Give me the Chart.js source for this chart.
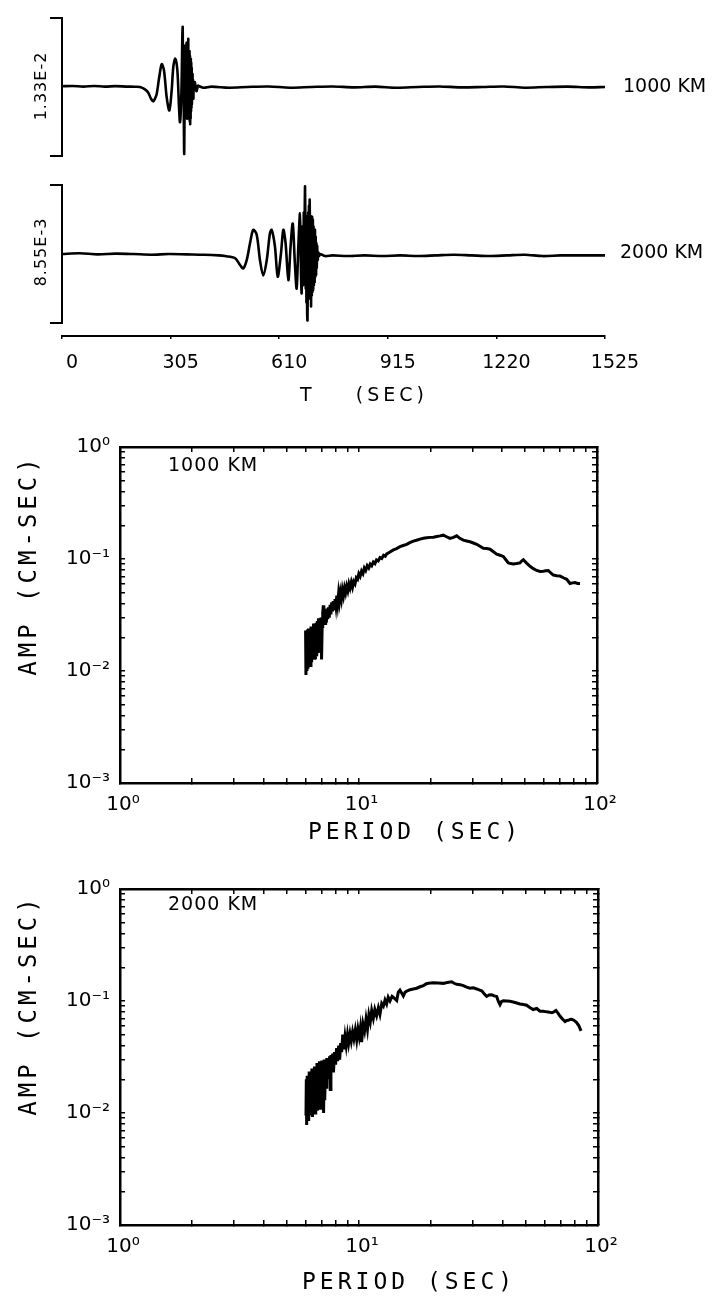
<!DOCTYPE html>
<html>
<head>
<meta charset="utf-8">
<script src="https://cdn.jsdelivr.net/npm/chart.js@4.4.0/dist/chart.umd.min.js"></script>
<style>
  body { margin: 0; background: #fff; }
  #page { position: relative; width: 722px; height: 1307px; overflow: hidden; font-family: "DejaVu Sans", sans-serif; color: #000; }
  canvas { position: absolute; left: 0; }
  .lbl { position: absolute; white-space: nowrap; line-height: 1; }
  .rot { transform: translate(-50%, -50%) rotate(-90deg); }
  .mid { transform: translateY(-50%); }
  .plot { font-family: "DejaVu Sans Mono", monospace; }
</style>
</head>
<body>
<div id="page">
  <canvas id="trace1" width="722" height="170" style="top:0"></canvas>
  <canvas id="trace2" width="722" height="160" style="top:170px"></canvas>
  <canvas id="timeAxis" width="722" height="80" style="top:320px"></canvas>
  <canvas id="spec1" width="722" height="430" style="top:420px"></canvas>
  <canvas id="spec2" width="722" height="445" style="top:862px"></canvas>

  <div class="lbl rot" style="left:41px;top:86px;font-size:16px;letter-spacing:1px">1.33E-2</div>
  <div class="lbl rot" style="left:41px;top:252px;font-size:16px;letter-spacing:1px">8.55E-3</div>
  <div class="lbl mid" style="left:623px;top:85px;font-size:19px">1000 KM</div>
  <div class="lbl mid" style="left:620px;top:251px;font-size:19px">2000 KM</div>
  <div class="lbl mid" style="left:300px;top:394px;font-size:19px;letter-spacing:4px">T&nbsp;&nbsp;&nbsp;&nbsp;(SEC)</div>

  <div class="lbl mid" style="left:168px;top:464px;font-size:19px;letter-spacing:1px">1000 KM</div>
  <div class="lbl rot plot" style="left:28px;top:565px;font-size:24px;letter-spacing:4px">AMP (CM-SEC)</div>
  <div class="lbl mid plot" style="left:308px;top:831px;font-size:23px;letter-spacing:4px">PERIOD (SEC)</div>

  <div class="lbl mid" style="left:168px;top:903px;font-size:19px;letter-spacing:1px">2000 KM</div>
  <div class="lbl rot plot" style="left:28px;top:1005px;font-size:24px;letter-spacing:4px">AMP (CM-SEC)</div>
  <div class="lbl mid plot" style="left:302px;top:1281px;font-size:23px;letter-spacing:4px">PERIOD (SEC)</div>
</div>

<script>
// seismograms, amplitude normalised to the trace maximum (printed beside each bracket)
const trace1Time = [0, 30, 60, 90, 120, 150, 180, 205, 219, 232, 242, 250, 256.5, 261, 266, 273, 280, 286.5, 294, 301.5,
  308, 312.6, 318, 324, 328.6, 331.4, 335, 337, 338, 339, 339.6, 340.2, 340.8, 341.4, 342, 342.6, 343.2, 343.8, 344.4, 345,
  345.6, 346.2, 346.8, 347.4, 348, 348.6, 349.2, 349.8, 350.4, 351, 351.6, 352.2, 352.8, 353.4, 354, 354.6, 355.2, 355.8, 356.4, 357,
  357.6, 358.2, 358.8, 359.4, 360, 360.6, 361.2, 361.8, 362.4, 363, 363.6, 364.2, 364.8, 365.4, 366, 366.6, 367.2, 368, 369, 370,
  371.5, 373.5, 376, 378, 382, 386, 397, 420, 470, 520, 580, 640, 700, 760, 820, 880, 940, 1000, 1060, 1120,
  1180, 1240, 1300, 1360, 1420, 1480, 1525];
const trace1Amp = [0.01, 0.015, 0.005, 0.015, 0.005, 0.012, 0.006, 0.004, 0.0, -0.03, -0.08, -0.17, -0.21, -0.17, -0.10, 0.14, 0.33, 0.24, -0.15, -0.34,
  -0.05, 0.29, 0.41, 0.24, -0.29, -0.51, -0.15, 0.40, 0.75, 0.87, 0.35, 0.62, 0.10, 0.58, -0.30, -0.75, -0.97, -0.60, -0.20, 0.35,
  -0.35, 0.55, -0.40, 0.60, -0.45, 0.50, -0.30, 0.64, -0.20, 0.55, -0.46, 0.45, -0.40, 0.65, -0.30, 0.70, -0.35, 0.50, -0.42, 0.45,
  -0.40, 0.52, -0.50, 0.45, -0.54, 0.40, -0.45, 0.41, -0.35, 0.35, -0.30, 0.28, -0.25, 0.20, -0.18, 0.19, -0.12, 0.10, -0.17, 0.05,
  -0.04, 0.07, -0.04, -0.06, 0.02, 0.01, -0.01, 0.005, -0.01, 0.0, 0.008, -0.01, 0.0, 0.008, -0.005, 0.005, -0.01, 0.0, 0.008, -0.005,
  0.0, 0.008, -0.01, 0.0, 0.005, -0.005, 0.0];

const trace2Time = [0, 50, 100, 150, 200, 250, 300, 350, 400, 440, 458, 486, 500, 509, 518.7, 528, 537, 546.8, 556, 565,
  575, 584, 589, 598, 605.8, 615, 621.6, 628, 635.7, 642, 648, 654, 659, 663.7, 668.4, 670, 671.5, 673, 674.5, 676,
  677.5, 679, 680.5, 681.5, 682.5, 683.5, 684.5, 685.5, 686.5, 687.5, 688.5, 689.5, 690.5, 691.5, 692.5, 693.5, 694.5, 695.5, 696.5, 697.5,
  698.5, 699.5, 700.5, 701.5, 702.5, 703.5, 704.5, 705.5, 706.5, 707.5, 708.5, 709.5, 710.5, 711.5, 712.5, 713.5, 714.5, 715.5, 716.5, 718,
  720, 722, 724.6, 738.6, 760, 800, 850, 900, 950, 1000, 1050, 1100, 1150, 1200, 1250, 1300, 1350, 1400, 1450, 1525];
const trace2Amp = [0.0, 0.01, -0.005, 0.005, 0.0, -0.01, 0.0, -0.005, -0.01, -0.02, -0.03, -0.06, -0.16, -0.21, -0.09, 0.155, 0.35, 0.28, -0.09, -0.31,
  -0.09, 0.30, 0.35, 0.11, -0.33, 0.01, 0.35, 0.155, -0.38, 0.11, 0.44, -0.13, -0.50, 0.11, 0.59, 0.10, -0.35, -0.57, -0.10, 0.40,
  -0.45, 0.60, -0.30, 0.50, 0.98, 0.40, -0.50, 0.55, -0.70, 0.30, -0.85, -0.96, -0.20, 0.60, -0.55, 0.70, -0.60, 0.78, 0.30, -0.65,
  0.55, -0.76, 0.45, -0.60, 0.54, -0.55, 0.50, -0.52, 0.40, -0.45, 0.35, -0.40, 0.35, -0.33, 0.25, -0.30, 0.155, -0.20, 0.12, -0.09,
  0.02, -0.03, 0.0, -0.03, -0.02, -0.03, -0.02, -0.03, -0.02, -0.03, -0.02, -0.01, -0.02, -0.03, -0.02, -0.01, -0.03, -0.02, -0.02, -0.02];

const timeTicks = [0, 305, 610, 915, 1220, 1525];
const bracketTicks = [-1, 1];

// amplitude spectra, 1000 km and 2000 km
const period1 = [6.00, 6.02, 6.05, 6.08, 6.11, 6.14, 6.17, 6.20, 6.24, 6.28, 6.32, 6.36, 6.40, 6.44, 6.48, 6.52, 6.56, 6.60, 6.64, 6.68,
  6.72, 6.76, 6.80, 6.84, 6.88, 6.92, 6.96, 7.00, 7.04, 7.08, 7.12, 7.16, 7.20, 7.24, 7.28, 7.33, 7.38, 7.43, 7.48, 7.54,
  7.60, 7.66, 7.72, 7.78, 7.84, 7.90, 7.97, 8.04, 8.11, 8.18, 8.25, 8.32, 8.40, 8.48, 8.56, 8.65, 8.74, 8.83, 8.92, 9.02,
  9.12, 9.22, 9.33, 9.44, 9.55, 9.67, 9.79, 9.91, 10.03, 10.16, 10.30, 10.44, 10.58, 10.72, 10.88, 11.04, 11.20, 11.36, 11.54, 11.72,
  11.90, 12.10, 12.31, 12.52, 12.74, 12.95, 13.13, 13.50, 14.00, 14.45, 14.93, 15.40, 15.93, 16.40, 16.98, 17.50, 18.11, 18.70, 19.32, 20.00,
  20.59, 21.30, 21.97, 22.68, 23.40, 24.19, 25.00, 25.81, 26.60, 27.51, 28.40, 29.35, 30.30, 31.31, 32.30, 33.37, 34.50, 35.60, 36.80, 37.97,
  39.20, 40.47, 41.40, 42.47, 43.50, 44.58, 46.00, 47.55, 48.30, 49.09, 50.70, 52.38, 54.10, 55.87, 57.70, 59.55, 61.00, 62.50, 64.00, 65.60,
  67.80, 69.98, 72.30, 74.65, 75.90, 77.10, 79.00, 80.90, 82.90, 84.90];
const amp1 = [0.0230, 0.0092, 0.0215, 0.0100, 0.0235, 0.0105, 0.0240, 0.0110, 0.0225, 0.0112, 0.0250, 0.0120, 0.0245, 0.0128, 0.0265, 0.0130, 0.0250, 0.0128, 0.0270, 0.0135,
  0.0280, 0.0145, 0.0295, 0.0150, 0.0270, 0.0190, 0.0300, 0.0127, 0.0250, 0.0330, 0.0385, 0.0280, 0.0350, 0.0265, 0.0345, 0.0270, 0.0360, 0.0290, 0.0370, 0.0300,
  0.0390, 0.0320, 0.0410, 0.0340, 0.0420, 0.0360, 0.0440, 0.0380, 0.0470, 0.0400, 0.0490, 0.0420, 0.0500, 0.0440, 0.0530, 0.0470, 0.0550, 0.0500, 0.0570, 0.0520,
  0.0600, 0.0550, 0.0620, 0.0560, 0.0630, 0.0600, 0.0680, 0.0660, 0.0740, 0.0700, 0.0780, 0.0740, 0.0830, 0.0790, 0.0870, 0.0830, 0.0900, 0.0870, 0.0940, 0.0910,
  0.0980, 0.0960, 0.1030, 0.1010, 0.1080, 0.1060, 0.1110, 0.1150, 0.1206, 0.1240, 0.1289, 0.1320, 0.1353, 0.1400, 0.1446, 0.1470, 0.1505, 0.1530, 0.1545, 0.1560,
  0.1567, 0.1590, 0.1609, 0.1632, 0.1580, 0.1527, 0.1560, 0.1609, 0.1530, 0.1475, 0.1450, 0.1426, 0.1390, 0.1353, 0.1300, 0.1248, 0.1240, 0.1223, 0.1160, 0.1106,
  0.1080, 0.1054, 0.0990, 0.0923, 0.0910, 0.0904, 0.0910, 0.0923, 0.0960, 0.0986, 0.0920, 0.0861, 0.0820, 0.0790, 0.0775, 0.0779, 0.0785, 0.0790, 0.0750, 0.0719,
  0.0710, 0.0704, 0.0680, 0.0659, 0.0630, 0.0604, 0.0612, 0.0617, 0.0605, 0.0604];

const period2 = [6.00, 6.02, 6.04, 6.07, 6.10, 6.13, 6.16, 6.19, 6.23, 6.27, 6.31, 6.35, 6.39, 6.43, 6.47, 6.51, 6.55, 6.59, 6.63, 6.67,
  6.71, 6.75, 6.79, 6.83, 6.87, 6.91, 6.95, 6.99, 7.03, 7.07, 7.11, 7.15, 7.19, 7.23, 7.28, 7.33, 7.38, 7.43, 7.48, 7.53,
  7.58, 7.63, 7.70, 7.76, 7.82, 7.90, 7.98, 8.06, 8.14, 8.22, 8.30, 8.38, 8.46, 8.55, 8.64, 8.74, 8.84, 8.95, 9.05, 9.17,
  9.28, 9.40, 9.52, 9.65, 9.78, 9.90, 10.02, 10.14, 10.26, 10.40, 10.55, 10.70, 10.85, 11.00, 11.15, 11.30, 11.48, 11.65, 11.85, 12.05,
  12.24, 12.45, 12.65, 12.85, 13.05, 13.25, 13.48, 13.75, 14.05, 14.38, 14.60, 14.84, 15.08, 15.33, 15.60, 16.00, 16.35, 16.90, 17.43, 18.00,
  18.59, 19.05, 19.50, 20.00, 20.46, 21.50, 22.53, 23.40, 24.42, 25.00, 25.62, 26.50, 27.33, 28.20, 29.14, 30.10, 31.08, 32.00, 32.61, 33.40,
  34.21, 35.00, 35.90, 36.80, 37.67, 38.30, 38.90, 39.50, 40.18, 41.50, 42.83, 45.00, 47.17, 48.70, 50.30, 52.00, 53.60, 55.40, 57.20, 59.00,
  61.00, 62.50, 64.00, 65.40, 66.70, 68.00, 69.30, 71.00, 72.80, 74.00, 75.10, 76.40, 77.60, 79.50, 81.40, 83.20, 84.90];
const amp2 = [0.0095, 0.0200, 0.0078, 0.0215, 0.0090, 0.0190, 0.0085, 0.0235, 0.0095, 0.0210, 0.0100, 0.0250, 0.0092, 0.0230, 0.0110, 0.0260, 0.0100, 0.0240, 0.0120, 0.0280,
  0.0105, 0.0250, 0.0130, 0.0290, 0.0110, 0.0260, 0.0140, 0.0295, 0.0120, 0.0270, 0.0100, 0.0300, 0.0130, 0.0280, 0.0170, 0.0310, 0.0200, 0.0300, 0.0210, 0.0320,
  0.0162, 0.0330, 0.0240, 0.0340, 0.0230, 0.0350, 0.0270, 0.0380, 0.0290, 0.0400, 0.0300, 0.0420, 0.0350, 0.0500, 0.0370, 0.0480, 0.0400, 0.0500, 0.0420, 0.0510,
  0.0440, 0.0530, 0.0460, 0.0550, 0.0450, 0.0560, 0.0480, 0.0580, 0.0430, 0.0620, 0.0540, 0.0690, 0.0560, 0.0750, 0.0650, 0.0820, 0.0700, 0.0840, 0.0740, 0.0870,
  0.0760, 0.0950, 0.0900, 0.1020, 0.0940, 0.1080, 0.1000, 0.1100, 0.1060, 0.1010, 0.1200, 0.1250, 0.1180, 0.1110, 0.1200, 0.1240, 0.1260, 0.1280, 0.1300, 0.1340,
  0.1370, 0.1420, 0.1440, 0.1450, 0.1456, 0.1450, 0.1437, 0.1460, 0.1486, 0.1440, 0.1408, 0.1400, 0.1370, 0.1330, 0.1300, 0.1310, 0.1281, 0.1250, 0.1231, 0.1160,
  0.1098, 0.1130, 0.1135, 0.1110, 0.1098, 0.0990, 0.0928, 0.0990, 0.1006, 0.1000, 0.0993, 0.0970, 0.0941, 0.0930, 0.0916, 0.0870, 0.0839, 0.0857, 0.0811, 0.0810,
  0.0800, 0.0795, 0.0785, 0.0800, 0.0822, 0.0780, 0.0734, 0.0690, 0.0655, 0.0670, 0.0673, 0.0685, 0.0686, 0.0670, 0.0642, 0.0600, 0.0542];

const periodTicks = [1, 2, 3, 4, 5, 6, 7, 8, 9, 10, 20, 30, 40, 50, 60, 70, 80, 90, 100];
const ampTicks = [0.001, 0.002, 0.003, 0.004, 0.005, 0.006, 0.007, 0.008, 0.009,
  0.01, 0.02, 0.03, 0.04, 0.05, 0.06, 0.07, 0.08, 0.09,
  0.1, 0.2, 0.3, 0.4, 0.5, 0.6, 0.7, 0.8, 0.9, 1];

const SUP = { '0': '\u2070', '1': '\u00b9', '2': '\u00b2', '3': '\u00b3', '-': '\u207b' };

function decadeLabel(value) {
  const e = Math.log10(value);
  if (Math.abs(e - Math.round(e)) > 1e-6) return '';
  return '10' + String(Math.round(e)).split('').map(c => SUP[c]).join('');
}

function points(xs, ys) {
  return xs.map((x, i) => ({ x: x, y: ys[i] }));
}

const noUi = { legend: { display: false }, tooltip: { enabled: false } };

function traceChart(id, times, amps, padTop, padBottom) {
  return new Chart(document.getElementById(id), {
    type: 'line',
    data: {
      datasets: [{
        data: points(times, amps),
        borderColor: '#000',
        borderWidth: 2.6,
        pointRadius: 0,
        tension: 0.3,
        fill: false
      }]
    },
    options: {
      responsive: false,
      animation: false,
      events: [],
      layout: { padding: { top: padTop, bottom: padBottom, right: 117, left: 0 } },
      plugins: noUi,
      scales: {
        x: { type: 'linear', min: 0, max: 1525, display: false },
        y: {
          min: -1, max: 1,
          afterBuildTicks: s => { s.ticks = bracketTicks.map(v => ({ value: v })); },
          afterFit: s => { s.width = 62; },
          border: { display: true, color: '#000', width: 2 },
          grid: { drawOnChartArea: false, drawTicks: true, tickLength: 12, color: '#000', lineWidth: 2 },
          ticks: { display: false }
        }
      }
    }
  });
}

traceChart('trace1', trace1Time, trace1Amp, 18, 14);
traceChart('trace2', trace2Time, trace2Amp, 15, 7);

// shared time axis under the seismograms
new Chart(document.getElementById('timeAxis'), {
  type: 'line',
  data: { datasets: [] },
  options: {
    responsive: false,
    animation: false,
    events: [],
    layout: { padding: { top: 10, left: 62, right: 117, bottom: 0 } },
    plugins: noUi,
    scales: {
      x: {
        type: 'linear', min: 0, max: 1525,
        afterBuildTicks: s => { s.ticks = timeTicks.map(v => ({ value: v })); },
        afterFit: s => { s.height = 64; },
        border: { display: true, color: '#000', width: 2 },
        grid: { drawOnChartArea: false, drawTicks: true, tickLength: 3, color: '#000', lineWidth: 1.5 },
        ticks: {
          color: '#000',
          font: { family: 'DejaVu Sans', size: 19 },
          padding: 13,
          labelOffset: 10,
          maxRotation: 0,
          autoSkip: false,
          callback: v => String(v)
        }
      },
      y: { display: false, min: 0, max: 1 }
    }
  }
});

function spectrumChart(id, periods, amps, bottomH, rightW) {
  const frame = { display: true, color: '#000', width: 2.5 };
  const inward = { drawOnChartArea: false, drawTicks: true, tickLength: -5, color: '#000', lineWidth: 1.5 };
  const tickFont = { family: 'DejaVu Sans', size: 20 };
  const xTicks = s => { s.ticks = periodTicks.map(v => ({ value: v })); };
  const yTicks = s => { s.ticks = ampTicks.map(v => ({ value: v })); };

  return new Chart(document.getElementById(id), {
    type: 'line',
    data: {
      datasets: [{
        data: points(periods, amps),
        borderColor: '#000',
        borderWidth: 3,
        pointRadius: 0,
        tension: 0,
        fill: false
      }]
    },
    options: {
      responsive: false,
      animation: false,
      events: [],
      layout: { padding: 0 },
      plugins: noUi,
      scales: {
        x: {
          type: 'logarithmic', position: 'bottom', min: 1, max: 100,
          afterBuildTicks: xTicks,
          afterFit: s => { s.height = bottomH; },
          border: frame, grid: inward,
          ticks: { color: '#000', font: tickFont, padding: 15, labelOffset: 3, autoSkip: false, maxRotation: 0, callback: decadeLabel }
        },
        x2: {
          type: 'logarithmic', position: 'top', min: 1, max: 100,
          afterBuildTicks: xTicks,
          afterFit: s => { s.height = 20; },
          border: frame, grid: inward,
          ticks: { display: false }
        },
        y: {
          type: 'logarithmic', position: 'left', min: 0.001, max: 1,
          afterBuildTicks: yTicks,
          afterFit: s => { s.width = 120; },
          border: frame, grid: inward,
          ticks: { color: '#000', font: tickFont, padding: 15, autoSkip: false, callback: decadeLabel }
        },
        y2: {
          type: 'logarithmic', position: 'right', min: 0.001, max: 1,
          afterBuildTicks: yTicks,
          afterFit: s => { s.width = rightW; },
          border: frame, grid: inward,
          ticks: { display: false }
        }
      }
    }
  });
}

spectrumChart('spec1', period1, amp1, 67, 125);
spectrumChart('spec2', period2, amp2, 82, 124);
</script>
</body>
</html>
